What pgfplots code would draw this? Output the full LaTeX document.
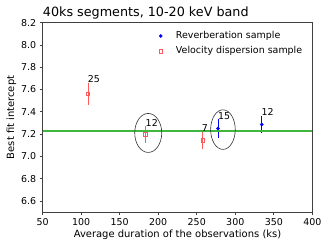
\documentclass[border=0pt]{standalone}
\usepackage{pgfplots}
\pgfplotsset{compat=1.18}
\usepackage{fontspec}
\setmainfont{DejaVu Sans}
\definecolor{lred}{rgb}{1,0.35,0.35}
\definecolor{mplg}{rgb}{0.25,0.72,0.25}
\begin{document}
\begin{tikzpicture}
\path[use as bounding box] (-42.7bp,-37bp) rectangle (289.3bp,212bp);
\begin{axis}[
  at={(0,0)}, anchor=south west,
  scale only axis, width=269.6bp, height=189.3bp,
  xmin=50, xmax=400, ymin=6.5, ymax=8.2,
  xtick={50,100,...,400},
  ytick={6.6,6.8,...,8.21},
  yticklabel style={/pgf/number format/.cd,fixed,fixed zerofill,precision=1},
  /pgf/number format/assume math mode=true,
  tick label style={font=\fontsize{9.5}{11}\selectfont},
  label style={font=\fontsize{10}{12}\selectfont},
  xlabel={Average duration of the observations (ks)},
  ylabel={Best fit intercept},
  xlabel style={yshift=3bp},
  ylabel style={yshift=-2bp},
  tick align=outside, xtick pos=bottom, ytick pos=left,
  major tick length=3bp,
  axis line style={draw=black!75, line width=0.8pt},
  tick style={black!75, line width=0.6pt},
  legend style={draw=none, fill=none, at={(0.41,0.975)}, anchor=north west, font=\fontsize{9.5}{11}\selectfont, row sep=2.5bp},
  legend cell align=left,
  clip=false,
]
\addplot[draw=none, blue, mark=*, mark size=1.6bp, mark options={fill=blue},
  legend image code/.code={\path (0,0) -- (0.62cm,0); \draw[blue, fill=blue] (0.15cm,0cm) circle (1.6bp);},
  error bars/.cd, y dir=both, y explicit, error bar style={blue, line width=0.8pt}, error mark=none]
  coordinates {(277.7,7.25) +- (0,0.083) (334.4,7.286) +- (0,0.08)};
\addlegendentry{Reverberation sample}
\addplot[draw=none, lred, mark=square, mark size=1.8bp, mark options={lred, line width=0.7pt},
  legend image code/.code={\path (0,0) -- (0.62cm,0); \draw[lred, line width=0.7pt] (0.15cm-1.8bp,-1.8bp) rectangle (0.15cm+1.8bp,1.8bp);},
  error bars/.cd, y dir=both, y explicit, error bar style={lred, line width=0.8pt}, error mark=none]
  coordinates {(108.8,7.56) +- (0,0.098) (183.3,7.196) +- (0,0.078) (257.8,7.145) +- (0,0.08)};
\addlegendentry{Velocity dispersion sample}
\addplot[draw=mplg, color=mplg, line width=1.8pt, mark=none, forget plot] coordinates {(50,7.225) (400,7.225)};
\node[anchor=south west, font=\fontsize{12.8}{15}\selectfont, inner sep=0] at (rel axis cs:0,1) [yshift=3bp] {40ks segments, 10-20 keV band};
\node[anchor=west, font=\fontsize{9.5}{11}\selectfont, inner sep=0] at (axis cs:108.5,7.69) {25};
\node[anchor=west, font=\fontsize{9.5}{11}\selectfont, inner sep=0] at (axis cs:183.5,7.3) {12};
\node[anchor=west, font=\fontsize{9.5}{11}\selectfont, inner sep=0] at (axis cs:256.5,7.255) {7};
\node[anchor=west, font=\fontsize{9.5}{11}\selectfont, inner sep=0] at (axis cs:277.5,7.36) {15};
\node[anchor=west, font=\fontsize{9.5}{11}\selectfont, inner sep=0] at (axis cs:334,7.40) {12};
\draw[black!80, line width=0.6pt] (axis cs:187,7.21) ellipse [x radius=13.5bp, y radius=19.5bp];
\draw[black!80, line width=0.6pt] (axis cs:284,7.24) ellipse [x radius=12.3bp, y radius=19.8bp];
\end{axis}
\end{tikzpicture}
\end{document}
